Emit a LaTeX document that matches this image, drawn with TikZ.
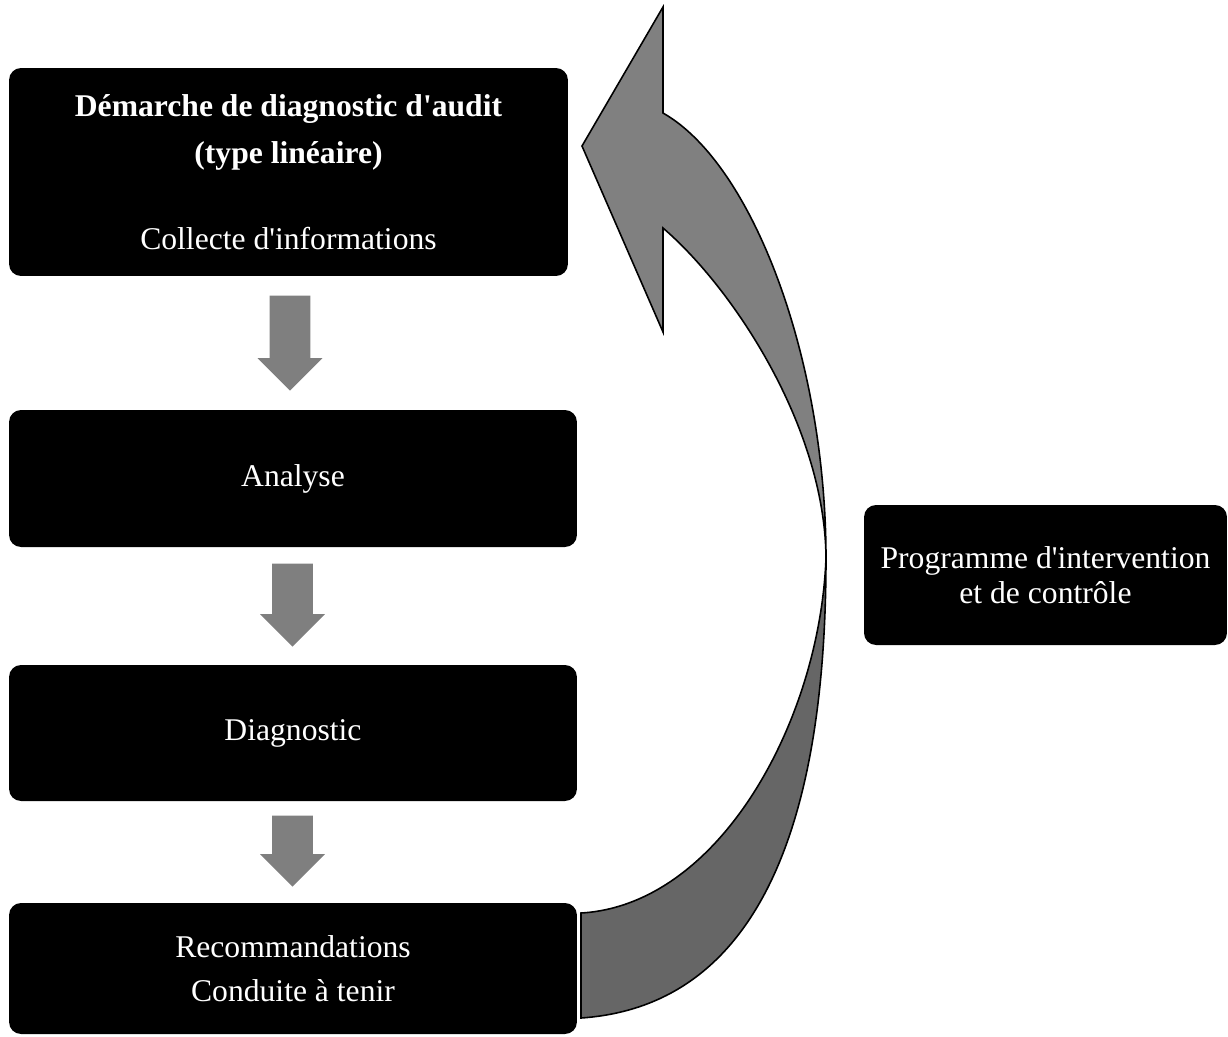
\documentclass[tikz,border=0pt]{standalone}
\usepackage{fontspec}
\setmainfont{Liberation Serif}
\usetikzlibrary{
    positioning,
    shapes.arrows
}

\begin{document}
\begin{tikzpicture}[x=0.02cm, y=-0.02cm,
    stage/.style={fill=black, text=white, rounded corners=0.24cm, align=center,
        inner sep=0pt, font=\fontsize{18}{27}\selectfont},
    downarrow/.style={single arrow, shape border rotate=270, fill=arrowgray,
        draw=none, inner sep=0.4cm, single arrow head extend=0.24cm,
        single arrow tip angle=90, minimum height=#1, anchor=tip}
]
% Define palette
\definecolor{arrowgray}{RGB}{127, 127, 127}
\definecolor{loopfront}{RGB}{128, 128, 128}
\definecolor{loopback}{RGB}{102, 102, 102}

\useasboundingbox (0,0) rectangle (1228,1036);

% Stages of the linear approach
\node[stage, minimum width=11.18cm, minimum height=4.16cm] (collecte) at (288.5,172)
    {\textbf{Démarche de diagnostic d\textquotesingle audit}\\
     \textbf{(type linéaire)}\\[22pt]
     Collecte d\textquotesingle informations};
\node[stage, minimum width=11.36cm, minimum height=2.74cm] (analyse) at (293,478.5) {Analyse};
\node[stage, minimum width=11.36cm, minimum height=2.72cm] (diagnostic) at (293,733) {Diagnostic};
\node[stage, minimum width=11.36cm, minimum height=2.62cm, font=\fontsize{18}{25}\selectfont]
    (recommandations) at (293,968.5) {Recommandations\\Conduite à tenir};
\node[stage, minimum width=7.26cm, minimum height=2.8cm, font=\fontsize{18}{20}\selectfont]
    (programme) at (1045.5,575) {Programme d\textquotesingle intervention\\et de contrôle};

% Block arrows between stages
\foreach \n/\x/\y/\l in {1/290/391/1.9cm, 2/292.5/647/1.66cm, 3/292.5/887/1.42cm} {
    \node[downarrow=\l] (step\n) at (\x,\y) {};
}

% Curved return arrow (back part, then front part)
\filldraw[loopback, draw=black, line width=0.9pt]
    (826,558) .. controls (826,800) and (770,1005) .. (581,1018)
    -- (581,913) .. controls (720,905) and (820,720) .. (826,558) -- cycle;
\filldraw[loopfront, draw=black, line width=0.9pt]
    (663,113) .. controls (753,164) and (826,360) .. (826,558)
    .. controls (825,427) and (733,288) .. (663,228)
    -- (663,332) -- (582,146) -- (663,7) -- cycle;
\end{tikzpicture}
\end{document}
